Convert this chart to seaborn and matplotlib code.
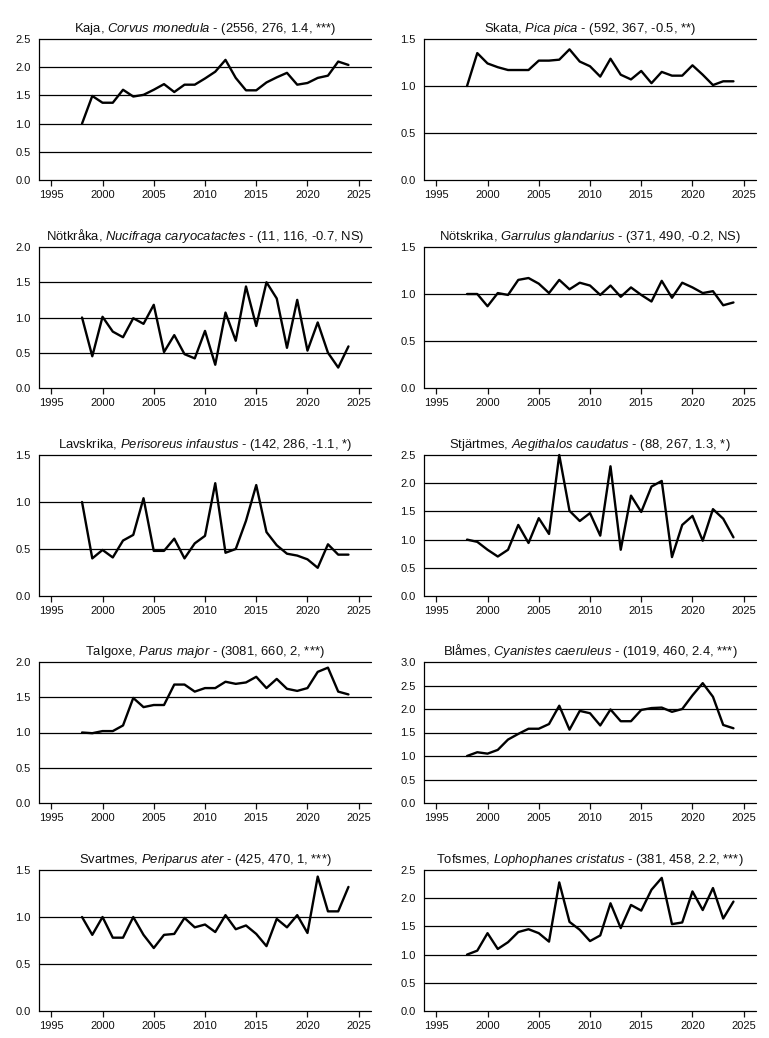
import numpy as np
import pandas as pd
import matplotlib
matplotlib.use("Agg")
import matplotlib.pyplot as plt
import seaborn as sns

# -----------------------------
# Data (index values, 1998 = 1)
# -----------------------------
years = list(range(1998, 2025))

kaja = [1.00, 1.49, 1.37, 1.37, 1.60, 1.48, 1.51, 1.60, 1.70, 1.56, 1.69, 1.69, 1.80,
        1.92, 2.13, 1.81, 1.59, 1.59, 1.73, 1.82, 1.90, 1.69, 1.72, 1.81, 1.85, 2.10, 2.04]
skata = [1.00, 1.35, 1.24, 1.20, 1.17, 1.17, 1.17, 1.27, 1.27, 1.28, 1.39, 1.26, 1.21,
         1.10, 1.29, 1.12, 1.07, 1.16, 1.03, 1.15, 1.11, 1.11, 1.22, 1.12, 1.01, 1.05, 1.05]
notkraka = [1.00, 0.45, 1.01, 0.80, 0.72, 0.99, 0.91, 1.18, 0.51, 0.75, 0.48, 0.42, 0.81,
            0.33, 1.07, 0.67, 1.44, 0.88, 1.50, 1.27, 0.57, 1.25, 0.53, 0.93, 0.50, 0.29, 0.59]
notskrika = [1.00, 1.00, 0.87, 1.01, 0.99, 1.15, 1.17, 1.11, 1.01, 1.15, 1.05, 1.12, 1.09,
             0.99, 1.09, 0.97, 1.07, 0.99, 0.92, 1.14, 0.96, 1.12, 1.07, 1.01, 1.03, 0.88, 0.91]
lavskrika = [1.00, 0.40, 0.49, 0.41, 0.59, 0.65, 1.04, 0.48, 0.48, 0.61, 0.40, 0.56, 0.64,
             1.20, 0.46, 0.50, 0.80, 1.18, 0.68, 0.54, 0.45, 0.43, 0.39, 0.30, 0.55, 0.44, 0.44]
stjartmes = [1.00, 0.96, 0.82, 0.70, 0.82, 1.26, 0.94, 1.38, 1.10, 2.50, 1.51, 1.33, 1.47,
             1.07, 2.30, 0.82, 1.78, 1.49, 1.94, 2.04, 0.69, 1.26, 1.42, 0.98, 1.54, 1.37, 1.04]
talgoxe = [1.00, 0.99, 1.02, 1.02, 1.10, 1.49, 1.36, 1.39, 1.39, 1.68, 1.68, 1.58, 1.63,
           1.63, 1.72, 1.69, 1.71, 1.79, 1.63, 1.76, 1.62, 1.59, 1.63, 1.86, 1.92, 1.58, 1.54]
blames = [1.00, 1.08, 1.05, 1.13, 1.35, 1.47, 1.58, 1.58, 1.68, 2.07, 1.56, 1.96, 1.91,
          1.65, 1.99, 1.74, 1.74, 1.98, 2.02, 2.03, 1.94, 2.00, 2.29, 2.55, 2.26, 1.66, 1.59]
svartmes = [1.00, 0.81, 1.00, 0.78, 0.78, 1.00, 0.81, 0.67, 0.81, 0.82, 0.99, 0.89, 0.92,
            0.84, 1.02, 0.87, 0.91, 0.82, 0.69, 0.98, 0.89, 1.02, 0.83, 1.43, 1.06, 1.06, 1.32]
tofsmes = [1.00, 1.07, 1.38, 1.10, 1.22, 1.40, 1.45, 1.38, 1.23, 2.28, 1.58, 1.44, 1.24,
           1.34, 1.91, 1.47, 1.88, 1.78, 2.15, 2.36, 1.54, 1.57, 2.12, 1.79, 2.18, 1.64, 1.94]

titles = [
    r"Kaja, $\mathit{Corvus\ monedula}$ - (2556, 276, 1.4, ***)",
    r"Skata, $\mathit{Pica\ pica}$ - (592, 367, -0.5, **)",
    r"Nötkråka, $\mathit{Nucifraga\ caryocatactes}$ - (11, 116, -0.7, NS)",
    r"Nötskrika, $\mathit{Garrulus\ glandarius}$ - (371, 490, -0.2, NS)",
    r"Lavskrika, $\mathit{Perisoreus\ infaustus}$ - (142, 286, -1.1, *)",
    r"Stjärtmes, $\mathit{Aegithalos\ caudatus}$ - (88, 267, 1.3, *)",
    r"Talgoxe, $\mathit{Parus\ major}$ - (3081, 660, 2, ***)",
    r"Blåmes, $\mathit{Cyanistes\ caeruleus}$ - (1019, 460, 2.4, ***)",
    r"Svartmes, $\mathit{Periparus\ ater}$ - (425, 470, 1, ***)",
    r"Tofsmes, $\mathit{Lophophanes\ cristatus}$ - (381, 458, 2.2, ***)",
]
series = [kaja, skata, notkraka, notskrika, lavskrika, stjartmes,
          talgoxe, blames, svartmes, tofsmes]
ymax = [2.5, 1.5, 2.0, 1.5, 1.5, 2.5, 2.0, 3.0, 1.5, 2.5]
xticks = [1995, 2000, 2005, 2010, 2015, 2020, 2025]

# -----------------------------
# Style
# -----------------------------
sns.set_style("white")
plt.rcParams["font.family"] = ["Liberation Sans", "DejaVu Sans"]
plt.rcParams["mathtext.fontset"] = "custom"
plt.rcParams["mathtext.rm"] = "Liberation Sans"
plt.rcParams["mathtext.it"] = "Liberation Sans:italic"

W, H = 769, 1038
fig = plt.figure(figsize=(W / 100, H / 100), dpi=100)

col_left = [39, 424]
row_top = [39, 247, 455, 662, 870]
aw, ah = 332, 141

# -----------------------------
# Panels
# -----------------------------
for i, (vals, title, top) in enumerate(zip(series, titles, ymax)):
    r, c = divmod(i, 2)
    ax = fig.add_axes([col_left[c] / W, 1 - (row_top[r] + ah) / H, aw / W, ah / H])
    df = pd.DataFrame({"year": years, "index": vals})
    sns.lineplot(data=df, x="year", y="index", ax=ax, color="black",
                 linewidth=1.7, clip_on=False)
    yt = np.arange(0, top + 0.01, 0.5)
    for y in yt:
        ax.axhline(y, color="black", linewidth=0.9, clip_on=False, zorder=1)
    ax.set_xlim(1993.8, 2026.2)
    ax.set_ylim(0, top)
    ax.set_yticks(yt)
    ax.set_yticklabels([f"{y:.1f}" for y in yt])
    ax.set_xticks(xticks)
    ax.set_xlabel("")
    ax.set_ylabel("")
    for s in ["top", "right", "bottom"]:
        ax.spines[s].set_visible(False)
    ax.spines["left"].set_linewidth(0.9)
    ax.spines["left"].set_color("black")
    ax.tick_params(axis="y", length=0, pad=6, labelsize=8.0, colors="#111111")
    ax.tick_params(axis="x", length=4, width=0.9, direction="out", pad=3,
                   labelsize=8.0, colors="#111111", bottom=True)
    ax.set_title(title, fontsize=9.4, pad=5, color="#111111")

plt.savefig("out.png", dpi=100)
plt.close()
